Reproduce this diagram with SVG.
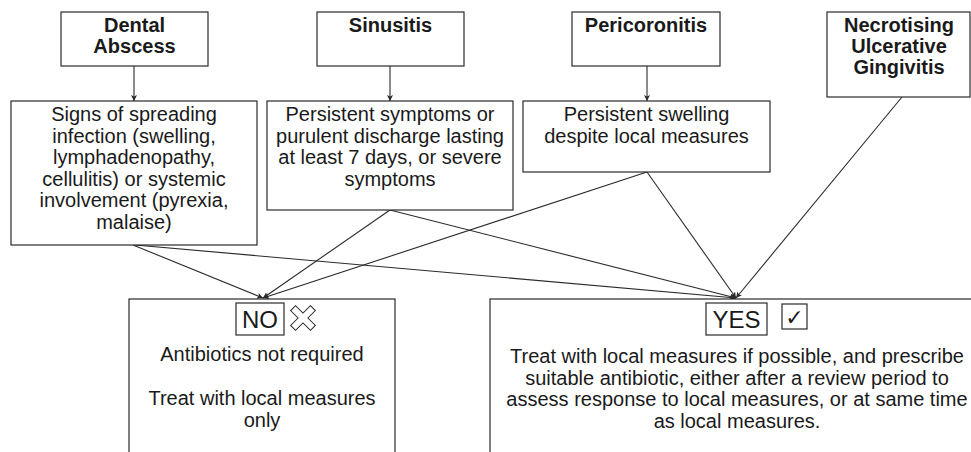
<svg xmlns="http://www.w3.org/2000/svg" width="971" height="452" viewBox="0 0 971 452">
<defs>
<style>
.box{fill:#fff;stroke:#2a2a2a;stroke-width:1.2}
.h{font-family:"Liberation Sans",Arial,sans-serif;font-weight:bold;font-size:20px;fill:#1a1a1a;text-anchor:middle}
.t{font-family:"Liberation Sans",Arial,sans-serif;font-size:20px;fill:#1a1a1a;text-anchor:middle}
.lbl{font-family:"Liberation Sans",Arial,sans-serif;font-size:24px;fill:#1a1a1a;text-anchor:middle}
.c{fill:none;stroke:#2a2a2a;stroke-width:1.1}
</style>
<marker id="ah" viewBox="0 0 8 8" refX="8" refY="4" markerWidth="6" markerHeight="6" markerUnits="userSpaceOnUse" orient="auto">
<path d="M0,0 L8,4 L0,8 L2,4 Z" fill="#2a2a2a"/>
</marker>
</defs>
<rect width="971" height="452" fill="#fff"/>
<g id="connectors">
<line class="c" x1="134" y1="66" x2="134" y2="101" marker-end="url(#ah)"/>
<line class="c" x1="390" y1="66" x2="390" y2="101" marker-end="url(#ah)"/>
<line class="c" x1="647" y1="66" x2="647" y2="101" marker-end="url(#ah)"/>
<line class="c" x1="133" y1="245" x2="263" y2="298" marker-end="url(#ah)"/>
<line class="c" x1="135" y1="245" x2="736" y2="298" marker-end="url(#ah)"/>
<line class="c" x1="390" y1="210" x2="263" y2="298" marker-end="url(#ah)"/>
<line class="c" x1="390" y1="210" x2="736" y2="298" marker-end="url(#ah)"/>
<line class="c" x1="647" y1="172" x2="263" y2="298" marker-end="url(#ah)"/>
<line class="c" x1="647" y1="172" x2="736" y2="298" marker-end="url(#ah)"/>
<line class="c" x1="902" y1="97" x2="736" y2="298" marker-end="url(#ah)"/>
</g>
<g id="dental">
<rect class="box" x="61" y="12" width="147" height="54"/>
<text class="h" x="134.5" y="32">Dental</text>
<text class="h" x="134.5" y="53">Abscess</text>
</g>
<g id="sinusitis">
<rect class="box" x="317" y="12" width="147" height="54"/>
<text class="h" x="390.5" y="32">Sinusitis</text>
</g>
<g id="pericoronitis">
<rect class="box" x="572" y="12" width="148" height="54"/>
<text class="h" x="646" y="32">Pericoronitis</text>
</g>
<g id="nug">
<rect class="box" x="827" y="12" width="143" height="85"/>
<text class="h" x="899" y="32">Necrotising</text>
<text class="h" x="899" y="53">Ulcerative</text>
<text class="h" x="899" y="74">Gingivitis</text>
</g>
<g id="signs">
<rect class="box" x="11" y="101" width="246" height="144"/>
<text class="t" x="134" y="121">Signs of spreading</text>
<text class="t" x="134" y="143">infection (swelling,</text>
<text class="t" x="134" y="164">lymphadenopathy,</text>
<text class="t" x="134" y="186">cellulitis) or systemic</text>
<text class="t" x="134" y="207">involvement (pyrexia,</text>
<text class="t" x="134" y="229">malaise)</text>
</g>
<g id="symptoms">
<rect class="box" x="267" y="101" width="246" height="109"/>
<text class="t" x="390" y="121">Persistent symptoms or</text>
<text class="t" x="390" y="143">purulent discharge lasting</text>
<text class="t" x="390" y="164">at least 7 days, or severe</text>
<text class="t" x="390" y="186">symptoms</text>
</g>
<g id="swelling">
<rect class="box" x="523" y="101" width="247" height="71"/>
<text class="t" x="646.5" y="121">Persistent swelling</text>
<text class="t" x="646.5" y="143">despite local measures</text>
</g>
<g id="no">
<rect class="box" x="129" y="299" width="266" height="160"/>
<rect class="box" x="236" y="303" width="48" height="32"/>
<text class="lbl" x="260" y="328">NO</text>
<path transform="translate(303,318) rotate(45)" d="M-3.5,-14 H3.5 V-3.5 H14 V3.5 H3.5 V14 H-3.5 V3.5 H-14 V-3.5 H-3.5 Z" fill="#fff" stroke="#2a2a2a" stroke-width="1"/>
<text class="t" x="262" y="361">Antibiotics not required</text>
<text class="t" x="262" y="405">Treat with local measures</text>
<text class="t" x="262" y="427">only</text>
</g>
<g id="yes">
<rect class="box" x="490" y="299" width="500" height="160"/>
<rect class="box" x="706" y="303" width="61" height="32"/>
<text class="lbl" x="736.5" y="328">YES</text>
<rect class="box" x="782" y="304" width="25" height="25"/>
<text x="794.5" y="325" font-family="DejaVu Sans,sans-serif" font-size="22" fill="#1a1a1a" text-anchor="middle">✓</text>
<text class="t" x="737" y="363">Treat with local measures if possible, and prescribe</text>
<text class="t" x="737" y="385">suitable antibiotic, either after a review period to</text>
<text class="t" x="737" y="406">assess response to local measures, or at same time</text>
<text class="t" x="737" y="428">as local measures.</text>
</g>
</svg>
